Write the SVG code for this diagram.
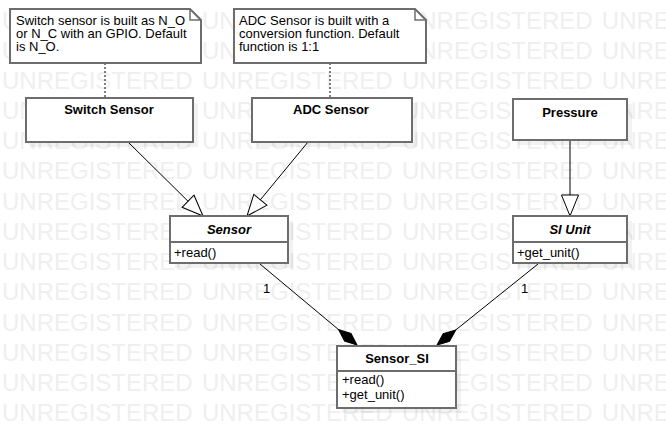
<svg xmlns="http://www.w3.org/2000/svg" width="666" height="448" viewBox="0 0 666 448">
<style>
text{font-family:"Liberation Sans",Arial,Helvetica,sans-serif;font-size:13px;fill:#000}
.wm{font-size:24px;fill:#efefef;word-spacing:2.6px}
.box{fill:#fff;stroke:#6d6d6d;stroke-width:2}
.sh{fill:#000;fill-opacity:0.05}
.name{font-weight:bold;text-anchor:middle}
.abs{font-style:italic}
.dot{stroke:#555;stroke-width:1.5;stroke-dasharray:2 2;fill:none}
.edge{stroke:#000;stroke-width:1;fill:none}
</style>
<defs>
<marker id="gen" markerUnits="userSpaceOnUse" viewBox="-23 -10 25 20" refX="0" refY="0" markerWidth="25" markerHeight="20" orient="auto">
<path d="M0,0 L-21,-8.5 L-21,8.5 Z" fill="#fff" stroke="#000" stroke-width="1"/>
</marker>
<marker id="comp" markerUnits="userSpaceOnUse" viewBox="-26 -7 28 14" refX="0" refY="0" markerWidth="28" markerHeight="14" orient="auto">
<path d="M0,0 L-12,-5 L-24,0 L-12,5 Z" fill="#000" stroke="#000" stroke-width="1"/>
</marker>
</defs>
<rect width="666" height="448" fill="#fff"/>
<g id="watermark">
<text class="wm" x="2" y="29">UNREGISTERED UNREGISTERED UNREGISTERED UNREGISTERED</text>
<text class="wm" x="2" y="59">UNREGISTERED UNREGISTERED UNREGISTERED UNREGISTERED</text>
<text class="wm" x="2" y="89">UNREGISTERED UNREGISTERED UNREGISTERED UNREGISTERED</text>
<text class="wm" x="2" y="119">UNREGISTERED UNREGISTERED UNREGISTERED UNREGISTERED</text>
<text class="wm" x="2" y="149">UNREGISTERED UNREGISTERED UNREGISTERED UNREGISTERED</text>
<text class="wm" x="2" y="179">UNREGISTERED UNREGISTERED UNREGISTERED UNREGISTERED</text>
<text class="wm" x="2" y="210">UNREGISTERED UNREGISTERED UNREGISTERED UNREGISTERED</text>
<text class="wm" x="2" y="240">UNREGISTERED UNREGISTERED UNREGISTERED UNREGISTERED</text>
<text class="wm" x="2" y="270">UNREGISTERED UNREGISTERED UNREGISTERED UNREGISTERED</text>
<text class="wm" x="2" y="300">UNREGISTERED UNREGISTERED UNREGISTERED UNREGISTERED</text>
<text class="wm" x="2" y="331">UNREGISTERED UNREGISTERED UNREGISTERED UNREGISTERED</text>
<text class="wm" x="2" y="361">UNREGISTERED UNREGISTERED UNREGISTERED UNREGISTERED</text>
<text class="wm" x="2" y="391">UNREGISTERED UNREGISTERED UNREGISTERED UNREGISTERED</text>
<text class="wm" x="2" y="421">UNREGISTERED UNREGISTERED UNREGISTERED UNREGISTERED</text>
</g>
<g id="connectors">
<line class="dot" x1="105" y1="63" x2="105" y2="98"/>
<line class="dot" x1="330" y1="63" x2="330" y2="98"/>
<line class="edge" x1="128" y1="142" x2="203" y2="216" marker-end="url(#gen)"/>
<line class="edge" x1="308" y1="142" x2="247" y2="216" marker-end="url(#gen)"/>
<line class="edge" x1="570" y1="140" x2="570" y2="216" marker-end="url(#gen)"/>
<line class="edge" x1="260" y1="264" x2="357" y2="345" marker-end="url(#comp)"/>
<line class="edge" x1="538" y1="264" x2="437" y2="345" marker-end="url(#comp)"/>
<text x="263" y="293">1</text>
<text x="521" y="293">1</text>
</g>
<g id="note1">
<path class="box" d="M10,9 H190 L201,20 V63 H10 Z"/>
<path d="M190,9 V20 H201" fill="none" stroke="#6d6d6d" stroke-width="1.5"/>
<text x="16" y="25">Switch sensor is built as N_O</text>
<text x="16" y="38">or N_C with an GPIO. Default</text>
<text x="16" y="51">is N_O.</text>
</g>
<g id="note2">
<path class="box" d="M234,9 H415 L426,20 V63 H234 Z"/>
<path d="M415,9 V20 H426" fill="none" stroke="#6d6d6d" stroke-width="1.5"/>
<text x="239" y="25">ADC Sensor is built with a</text>
<text x="239" y="38">conversion function. Default</text>
<text x="239" y="51">function is 1:1</text>
</g>
<g id="switch-sensor">
<rect class="sh" x="31" y="103" width="167" height="44"/>
<rect class="box" x="26" y="98" width="167" height="44"/>
<text class="name" x="109" y="114">Switch Sensor</text>
</g>
<g id="adc-sensor">
<rect class="sh" x="257" y="103" width="160" height="44"/>
<rect class="box" x="252" y="98" width="160" height="44"/>
<text class="name" x="331" y="114">ADC Sensor</text>
</g>
<g id="pressure">
<rect class="sh" x="518" y="104" width="114" height="41"/>
<rect class="box" x="513" y="99" width="114" height="41"/>
<text class="name" x="570" y="117">Pressure</text>
</g>
<g id="sensor">
<rect class="sh" x="175" y="221" width="118" height="47"/>
<rect class="box" x="170" y="216" width="118" height="47"/>
<line x1="170" y1="242" x2="288" y2="242" stroke="#6d6d6d" stroke-width="2"/>
<text class="name abs" x="229" y="234">Sensor</text>
<text x="174" y="257">+read()</text>
</g>
<g id="si-unit">
<rect class="sh" x="518" y="221" width="114" height="47"/>
<rect class="box" x="513" y="216" width="114" height="47"/>
<line x1="513" y1="242" x2="627" y2="242" stroke="#6d6d6d" stroke-width="2"/>
<text class="name abs" x="570" y="234">SI Unit</text>
<text x="517" y="257">+get_unit()</text>
</g>
<g id="sensor-si">
<rect class="sh" x="342" y="351" width="119" height="62"/>
<rect class="box" x="337" y="346" width="119" height="62"/>
<line x1="337" y1="371" x2="456" y2="371" stroke="#6d6d6d" stroke-width="2"/>
<text class="name" x="397" y="363">Sensor_SI</text>
<text x="342" y="384">+read()</text>
<text x="342" y="399">+get_unit()</text>
</g>
</svg>
